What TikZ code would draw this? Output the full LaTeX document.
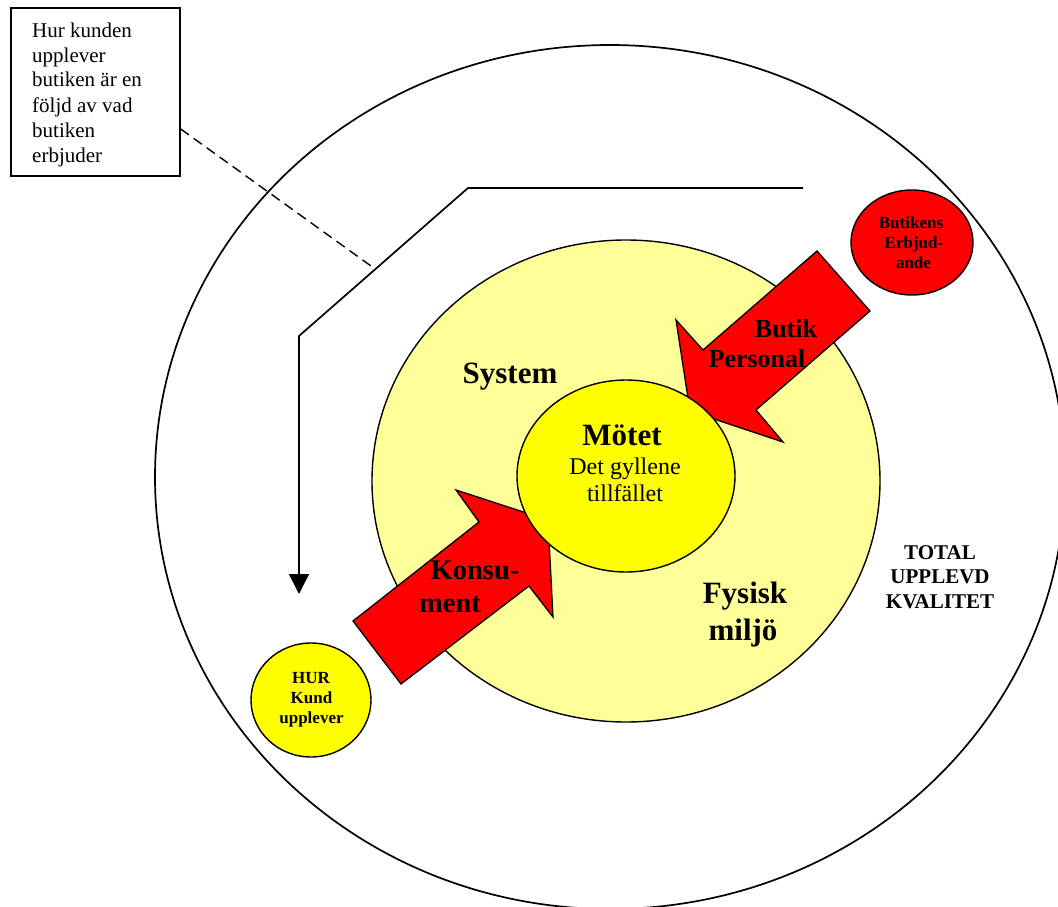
\documentclass[tikz,border=0pt]{standalone}
\usepackage{fontspec}
\setmainfont{Liberation Serif}
\usetikzlibrary{shapes.geometric,arrows.meta,calc}
\definecolor{paleyellow}{HTML}{FFFF99}
\definecolor{brightyellow}{HTML}{FFFF00}
\definecolor{brightred}{HTML}{FF0000}
\begin{document}
\begin{tikzpicture}[x=1pt,y=-1pt,
  oval/.style={ellipse,draw,inner sep=0pt,line width=1.4pt},
  blockarrow/.style={fill=brightred,draw=black,line width=1.3pt,line join=miter},
  txt/.style={inner sep=0pt,anchor=base},
  fbig/.style={font=\fontsize{31}{31}\selectfont\bfseries},
  fmid/.style={font=\fontsize{26}{26}\selectfont\bfseries},
  fkon/.style={font=\fontsize{28.5}{28.5}\selectfont\bfseries},
  freg/.style={font=\fontsize{24}{24}\selectfont},
  ftot/.style={font=\fontsize{21}{21}\selectfont\bfseries},
  fsmall/.style={font=\fontsize{17}{17}\selectfont\bfseries},
  fbox/.style={font=\fontsize{21}{21}\selectfont}]
\useasboundingbox (0,0) rectangle (1058,907);
\fill[white] (0,0) rectangle (1058,907);
% outer circle (clipped by page)
\begin{scope}
  \clip (0,0) rectangle (1058,907);
  \node[oval,line width=1.7pt,minimum width=910,minimum height=864] (outer) at (610,477) {};
\end{scope}
% pale yellow circle
\node[oval,fill=paleyellow,minimum width=508,minimum height=482] (milieu) at (626,481) {};
% block arrows
\path[blockarrow] (817,251) -- (870,311) -- (756,410) -- (783,442) -- (690,411) -- (676,320) -- (703,350) -- cycle;
\path[blockarrow] (353,621) -- (479,522) -- (456,490) -- (548,520) -- (553,617) -- (529,586) -- (401,684) -- cycle;
% inner circles
\node[oval,fill=brightyellow,minimum width=218,minimum height=192] (motet) at (626,476) {};
\node[oval,fill=brightyellow,minimum width=120,minimum height=114] (hur) at (311,700) {};
\node[oval,fill=brightred,minimum width=122,minimum height=105] (erbj) at (912,242.5) {};
% text box
\node[draw,line width=1.7pt,minimum width=169,minimum height=168,inner sep=0pt,anchor=north west] (box) at (10,7) {};
\coordinate (dashend) at (371,266);
\draw[line width=1.4pt,dash pattern=on 10pt off 6pt] ($(box.north east)+(0,122)$) -- (dashend);
% polyline connector
\coordinate (p1) at (803,188);
\coordinate (p2) at (468,188);
\coordinate (p3) at (299,336);
\coordinate (p4) at (299,594);
\draw[line width=1.7pt,-{Triangle[width=20pt,length=20pt]}] (p1) -- (p2) -- (p3) -- (p4);
% texts
\node[txt,fbig] (tsys) at (510,383) {System};
\node[txt,fbig] (tmot) at (622,445) {Mötet};
\node[txt,freg] (tdet) at (625,474) {Det gyllene};
\node[txt,freg] (ttill) at (625,501) {tillfället};
\node[txt,fmid] (tbut) at (786,337) {Butik};
\node[txt,fmid] (tpers) at (757,367) {Personal};
\node[txt,fkon] (tkon) at (475,579) {Konsu-};
\node[txt,fkon] (tment) at (450,612) {ment};
\node[txt,fbig] (tfys) at (745,603) {Fysisk};
\node[txt,fbig] (tmil) at (743,640) {miljö};
\node[txt,ftot] (ttot) at (940,559) {TOTAL};
\node[txt,ftot] (tupp) at (940,583) {UPPLEVD};
\node[txt,ftot] (tkval) at (940,608) {KVALITET};
\node[txt,fsmall] (tbk) at (911,228) {Butikens};
\node[txt,fsmall] (terb) at (914,248) {Erbjud-};
\node[txt,fsmall] (tande) at (913.5,268) {ande};
\node[txt,fsmall] (thur) at (311,683) {HUR};
\node[txt,fsmall] (tkund) at (311.5,703) {Kund};
\node[txt,fsmall] (tupl) at (311.5,723) {upplever};
\node[txt,fbox,anchor=base west] (b1) at (32,38) {Hur kunden};
\node[txt,fbox,anchor=base west] (b2) at (32,63) {upplever};
\node[txt,fbox,anchor=base west] (b3) at (32,87) {butiken är en};
\node[txt,fbox,anchor=base west] (b4) at (32,112) {följd av vad};
\node[txt,fbox,anchor=base west] (b5) at (32,137) {butiken};
\node[txt,fbox,anchor=base west] (b6) at (32,162) {erbjuder};
\end{tikzpicture}
\end{document}
